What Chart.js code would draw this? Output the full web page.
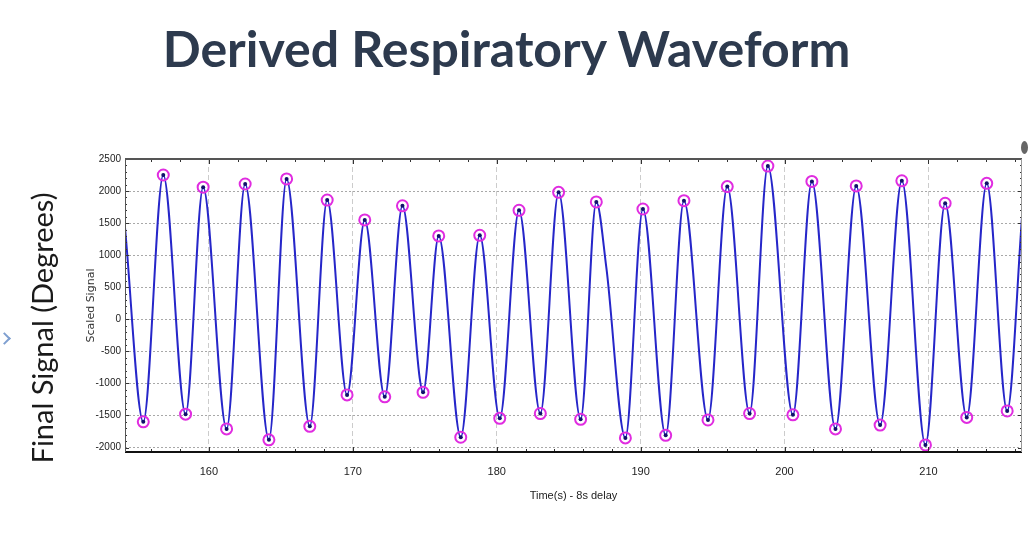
<!DOCTYPE html>
<html lang="en">

<head>
    <meta charset="utf-8">
    <script src="https://cdn.jsdelivr.net/npm/chart.js@4/dist/chart.umd.min.js"></script>
    <style>
        html, body { margin: 0; padding: 0; background: #fff; }
        #wrap { position: relative; width: 1035px; height: 535px; overflow: hidden; }
        #chartBox { position: absolute; left: 0; top: 0; width: 1035px; height: 535px; }
        .title {
            position: absolute; left: 0; top: 18px; width: 1013px; text-align: center;
            font: 700 50px/1.2 Lato, "Open Sans", sans-serif; color: #2d3a4e;
        }
        .outer-label {
            position: absolute; left: 41px; top: 328px; white-space: nowrap;
            transform: translate(-50%, -50%) rotate(-90deg);
            font: 400 29px Lato, "Open Sans", sans-serif; color: #1a1a1a;
        }
        .chev {
            position: absolute; left: 0px; top: 334px; width: 7px; height: 7px;
            border-top: 2px solid #7e9fd0; border-right: 2px solid #7e9fd0;
            transform: rotate(45deg);
        }
        .dot {
            position: absolute; left: 1021px; top: 141px; width: 7px; height: 13px;
            border-radius: 50%; background: #666;
        }
    </style>
</head>

<body>
    <div id="wrap">
        <div id="chartBox"><canvas id="myChart"></canvas></div>
        <div class="title">Derived Respiratory Waveform</div>
        <div class="outer-label">Final Signal (Degrees)</div>
        <div class="chev"></div>
        <div class="dot"></div>
    </div>

<script>
    // waveform: peaks, troughs and a couple of shoulders
    var waveTime = [154.17, 155.44, 156.83, 158.38, 159.6, 161.23, 162.52, 164.17, 165.4, 167.01,
        168.22, 169.6, 170.83, 172.22, 173.45, 174.65, 174.88, 175.97, 177.5, 178.82,
        180.21, 181.55, 183.03, 184.3, 185.83, 186.92, 187.62, 188.94, 190.16, 191.74,
        193.01, 194.68, 196.02, 197.57, 198.84, 200.58, 201.9, 203.54, 204.98, 206.64,
        208.15, 209.79, 211.16, 212.66, 214.05, 215.47, 216.5];
    var waveSignal = [1430, -1600, 2250, -1480, 2060, -1710, 2110, -1880, 2190, -1670,
        1860, -1180, 1550, -1210, 1770, -920, -1140, 1300, -1840, 1310,
        -1545, 1700, -1470, 1980, -1560, 1830, 800, -1850, 1720, -1810,
        1850, -1570, 2070, -1470, 2390, -1490, 2150, -1710, 2080, -1650,
        2160, -1960, 1810, -1530, 2120, -1430, 1590];

    var xTickLabels = [160, 170, 180, 190, 200, 210];
    var yTickLabels = [-2000, -1500, -1000, -500, 0, 500, 1000, 1500, 2000, 2500];

    var narrow = "'Liberation Sans Narrow', 'Arial Narrow', 'Liberation Sans', sans-serif";

    // peaks / troughs get the magenta circles
    var isMarked = waveSignal.map(function (v, i) {
        if (i === 0 || i === waveSignal.length - 1) return false;
        var a = waveSignal[i - 1], b = waveSignal[i + 1];
        return (v > a && v > b) || (v < a && v < b);
    });

    var wave = waveTime.map(function (t, i) { return { x: t, y: waveSignal[i] }; });
    var marks = wave.filter(function (p, i) { return isMarked[i]; });

    // MATLAB style frame with small inward ticks
    var framePlugin = {
        id: 'frame',
        afterDatasetsDraw: function (chart) {
            var ctx = chart.ctx, a = chart.chartArea;
            var xs = chart.scales.x, ys = chart.scales.y;
            ctx.save();
            ctx.strokeStyle = '#333';
            ctx.lineWidth = 1;
            ctx.beginPath();
            for (var t = 156; t <= 216; t += 2) {
                var px = Math.round(xs.getPixelForValue(t)) + 0.5;
                var len = (t % 10 === 0) ? 5 : 3;
                ctx.moveTo(px, a.bottom); ctx.lineTo(px, a.bottom - len);
                ctx.moveTo(px, a.top); ctx.lineTo(px, a.top + len);
            }
            for (var v = -2000; v <= 2500; v += 100) {
                var py = Math.round(ys.getPixelForValue(v)) + 0.5;
                var l2 = (v % 500 === 0) ? 4 : 2;
                ctx.moveTo(a.left, py); ctx.lineTo(a.left + l2, py);
                ctx.moveTo(a.right, py); ctx.lineTo(a.right - l2, py);
            }
            ctx.stroke();
            ctx.lineWidth = 2;
            ctx.strokeStyle = '#555';
            ctx.beginPath(); ctx.moveTo(a.left, a.top); ctx.lineTo(a.right, a.top); ctx.stroke();
            ctx.strokeStyle = '#111';
            ctx.beginPath(); ctx.moveTo(a.left, a.bottom); ctx.lineTo(a.right, a.bottom); ctx.stroke();
            ctx.lineWidth = 1;
            ctx.strokeStyle = '#555';
            ctx.beginPath(); ctx.moveTo(a.left + 0.5, a.top); ctx.lineTo(a.left + 0.5, a.bottom); ctx.stroke();
            ctx.strokeStyle = '#999';
            ctx.beginPath(); ctx.moveTo(a.right - 0.5, a.top); ctx.lineTo(a.right - 0.5, a.bottom); ctx.stroke();
            ctx.restore();
        }
    };

    var ctx = document.getElementById('myChart').getContext('2d');
    var myChart = new Chart(ctx, {
        type: 'line',
        data: {
            datasets: [{
                label: 'Scaled Signal',
                data: wave,
                borderColor: '#2626c9',
                borderWidth: 2,
                cubicInterpolationMode: 'monotone',
                pointRadius: function (c) { return isMarked[c.dataIndex] ? 2 : 0; },
                pointBackgroundColor: '#10106a',
                pointBorderWidth: 0,
                fill: false,
                order: 2
            }, {
                label: 'Peaks',
                data: marks,
                showLine: false,
                pointRadius: 5.5,
                pointBorderWidth: 2,
                pointBorderColor: '#e02ce0',
                pointBackgroundColor: 'rgba(0,0,0,0)',
                order: 1
            }]
        },
        options: {
            responsive: true,
            maintainAspectRatio: false,
            animation: false,
            layout: { padding: { left: 80, right: 13, top: 159, bottom: 20 } },
            plugins: {
                legend: { display: false },
                tooltip: { enabled: false }
            },
            scales: {
                x: {
                    type: 'linear',
                    min: 154.17,
                    max: 216.5,
                    afterBuildTicks: function (s) { s.ticks = xTickLabels.map(function (v) { return { value: v }; }); },
                    afterFit: function (s) { s.height = 63; },
                    grid: { color: '#cccccc', lineWidth: 1, drawTicks: false },
                    border: { display: false, dash: [5, 3] },
                    ticks: {
                        color: '#222', padding: 13, font: { family: narrow, size: 11 },
                        callback: function (v) { return String(v); }
                    },
                    title: {
                        display: true, text: 'Time(s) - 8s delay', color: '#222',
                        font: { family: narrow, size: 11 }, padding: { top: 0, bottom: 12 }
                    }
                },
                y: {
                    min: -2070,
                    max: 2500,
                    afterBuildTicks: function (s) { s.ticks = yTickLabels.map(function (v) { return { value: v }; }); },
                    afterFit: function (s) { s.width = 45; },
                    grid: { color: '#a8a8a8', lineWidth: 1, drawTicks: false },
                    border: { display: false, dash: [2, 2] },
                    ticks: {
                        color: '#222', padding: 4, font: { family: narrow, size: 10 },
                        callback: function (v) { return String(v); }
                    },
                    title: {
                        display: true, text: 'Scaled Signal', color: '#333',
                        font: { family: "'DejaVu Sans', sans-serif", size: 11 }, padding: { top: 5, bottom: 0 }
                    }
                }
            }
        },
        plugins: [framePlugin]
    });
</script>
</body>

</html>
